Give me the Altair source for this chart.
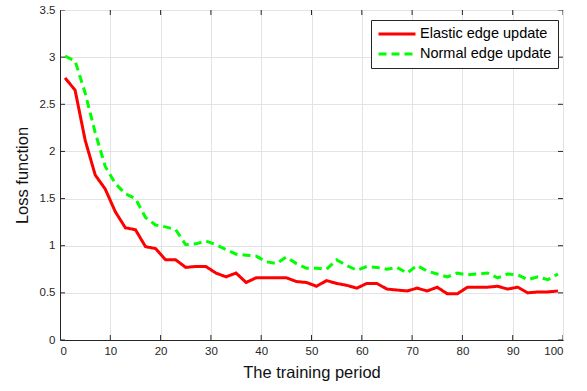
import altair as alt
import pandas as pd

# Training periods (every other period is logged)
periods = list(range(1, 100, 2))

elastic_loss = [
    2.78, 2.65, 2.12, 1.75, 1.60, 1.36, 1.19, 1.17, 0.99, 0.97,
    0.85, 0.85, 0.77, 0.78, 0.78, 0.71, 0.67, 0.71, 0.61, 0.66,
    0.66, 0.66, 0.66, 0.62, 0.61, 0.57, 0.63, 0.60, 0.58, 0.55,
    0.60, 0.60, 0.54, 0.53, 0.52, 0.55, 0.52, 0.56, 0.49, 0.49,
    0.56, 0.56, 0.56, 0.57, 0.54, 0.56, 0.50, 0.51, 0.51, 0.52,
]

normal_loss = [
    3.01, 2.96, 2.62, 2.20, 1.84, 1.66, 1.55, 1.50, 1.30, 1.22,
    1.20, 1.17, 1.01, 1.02, 1.05, 1.01, 0.96, 0.91, 0.90, 0.89,
    0.83, 0.81, 0.88, 0.81, 0.76, 0.76, 0.75, 0.85, 0.79, 0.74,
    0.78, 0.77, 0.75, 0.77, 0.71, 0.79, 0.73, 0.70, 0.67, 0.71,
    0.69, 0.70, 0.71, 0.66, 0.70, 0.69, 0.64, 0.67, 0.64, 0.70,
]

series_names = ["Elastic edge update", "Normal edge update"]
series_colors = ["#ff0000", "#00ff00"]
series_dashes = [[1, 0], [8, 5]]

x_ticks = list(range(0, 101, 10))
y_ticks = [0, 0.5, 1, 1.5, 2, 2.5, 3, 3.5]

FONT = "Liberation Sans"
INK = "#262626"

df = pd.concat([
    pd.DataFrame({"period": periods, "loss": elastic_loss, "series": series_names[0]}),
    pd.DataFrame({"period": periods, "loss": normal_loss, "series": series_names[1]}),
])

x_scale = alt.Scale(domain=[0, 100], nice=False, zero=False)
y_scale = alt.Scale(domain=[0, 3.5], nice=False)

lines = alt.Chart(df).mark_line(strokeWidth=3, clip=True).encode(
    x=alt.X("period:Q", scale=x_scale,
            axis=alt.Axis(values=x_ticks, title="The training period", format="d")),
    y=alt.Y("loss:Q", scale=y_scale,
            axis=alt.Axis(values=y_ticks, title="Loss function", format="~g")),
    color=alt.Color("series:N", scale=alt.Scale(domain=series_names, range=series_colors),
                    legend=alt.Legend(title=None)),
    strokeDash=alt.StrokeDash("series:N", scale=alt.Scale(domain=series_names, range=series_dashes),
                              legend=alt.Legend(title=None)),
)

# Inward-pointing tick marks on all four sides of the box
xt = pd.DataFrame({"t": x_ticks})
yt = pd.DataFrame({"t": y_ticks})

tick_style = dict(color=INK, thickness=1, size=10, clip=True, opacity=1)

bottom_ticks = alt.Chart(xt).mark_tick(orient="vertical", **tick_style).encode(
    x=alt.X("t:Q", scale=x_scale), y=alt.datum(0))
top_ticks = alt.Chart(xt).mark_tick(orient="vertical", **tick_style).encode(
    x=alt.X("t:Q", scale=x_scale), y=alt.datum(3.5))
left_ticks = alt.Chart(yt).mark_tick(orient="horizontal", **tick_style).encode(
    y=alt.Y("t:Q", scale=y_scale), x=alt.datum(0))
right_ticks = alt.Chart(yt).mark_tick(orient="horizontal", **tick_style).encode(
    y=alt.Y("t:Q", scale=y_scale), x=alt.datum(100))

chart = alt.layer(lines, bottom_ticks, top_ticks, left_ticks, right_ticks).properties(
    width=503,
    height=330,
    autosize=alt.AutoSizeParams(type="none"),
    padding={"left": 60, "top": 10, "right": 24, "bottom": 51},
).configure(
    font=FONT,
).configure_view(
    stroke=INK,
    strokeWidth=1,
).configure_axis(
    grid=True,
    gridColor="#e3e3e3",
    gridWidth=1,
    ticks=False,
    domainColor=INK,
    domainWidth=1,
    labelFont=FONT,
    labelFontSize=11.5,
    labelColor=INK,
    labelPadding=5,
    titleFont=FONT,
    titleFontSize=16.5,
    titleFontWeight="normal",
    titleColor="#111111",
).configure_axisX(
    titlePadding=8,
).configure_axisY(
    titlePadding=9,
).configure_legend(
    orient="none",
    legendX=311,
    legendY=10,
    strokeColor=INK,
    fillColor="white",
    padding=6,
    symbolType="stroke",
    symbolSize=1369,
    symbolStrokeWidth=3,
    labelFont=FONT,
    labelFontSize=14.5,
    labelColor="#000000",
    labelOffset=3,
    clipHeight=16,
    rowPadding=4,
    cornerRadius=0,
)

chart.save("out.html", embed_options={"renderer": "svg", "actions": False})
